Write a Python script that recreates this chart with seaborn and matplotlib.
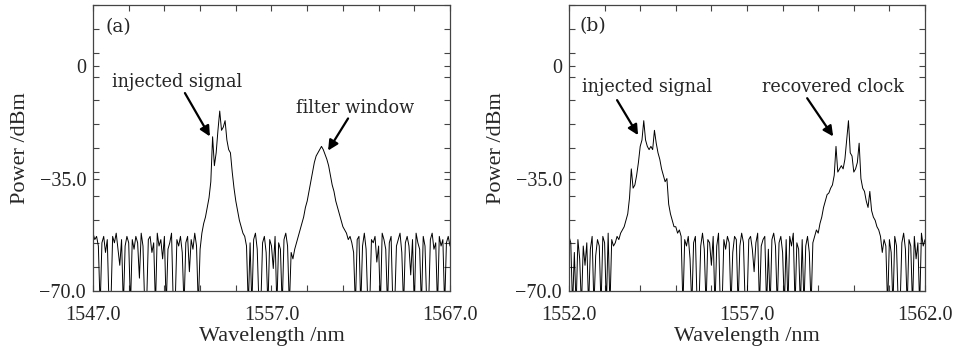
import numpy as np
import pandas as pd
import matplotlib
matplotlib.use("Agg")
import matplotlib.pyplot as plt
import seaborn as sns

# ---------------- data ----------------
# Panel (a): 1547.0 .. 1567.0 nm, 0.1 nm sampling (201 samples)
a_start, a_stop = 1547.0, 1567.0
a_noise_left = [
    -52, -54, -53, -56, -75, -55, -53, -58, -54, -75,
    -75, -53, -55, -52, -57, -62, -54, -75, -56, -53,
    -55, -75, -54, -57, -53, -55, -66, -52, -56, -75,
    -75, -54, -53, -58, -55, -75, -52, -56, -54, -60,
    -53, -75, -57, -55, -52, -75, -75, -54, -56, -53,
    -58, -75, -55, -53, -64, -54, -57, -52, -56, -75]
a_signal = [
    -57, -52, -49, -47, -44, -41, -36, -22, -31, -27,
    -20, -14, -20, -19, -17, -23, -26, -27, -33, -38,
    -42, -45, -48, -50, -52]
a_noise_mid = [
    -53, -56, -75, -55, -75, -54, -52, -57, -75, -75,
    -55, -53, -58, -75, -54, -56, -63, -53, -75, -55,
    -57, -75, -54, -52, -56, -75, -58, -60, -57]
a_filter = [
    -55, -53, -51, -49, -47, -44, -42, -39, -36, -33,
    -30, -28, -27, -26, -25, -26, -27.5, -29, -31, -34,
    -37, -39, -42, -44, -46, -48, -50, -51, -52, -54, -53]
a_noise_right = [
    -55, -58, -75, -54, -53, -75, -56, -52, -57, -75,
    -75, -54, -55, -53, -61, -56, -75, -52, -54, -57,
    -75, -55, -53, -75, -75, -56, -54, -52, -58, -75,
    -55, -53, -56, -65, -54, -75, -52, -55, -57, -75,
    -53, -56, -75, -75, -54, -52, -57, -55, -75, -53,
    -56, -54, -75, -55, -53, -56]
power_a = a_noise_left + a_signal + a_noise_mid + a_filter + a_noise_right

# Panel (b): 1552.0 .. 1562.0 nm, 0.05 nm sampling (201 samples)
b_start, b_stop = 1552.0, 1562.0
b_noise_left = [
    -53, -55, -75, -58, -75, -54, -60, -75, -56, -62,
    -55, -75, -57, -53, -75, -59, -54, -56, -75, -53,
    -55, -75, -52, -75, -54, -56]
b_signal = [
    -55, -53, -54, -52, -51, -50, -48, -46, -41, -32,
    -38, -37, -34, -30, -25, -23, -17, -23, -25, -26,
    -25, -26, -20, -24, -27, -29, -32, -34, -36, -35,
    -43, -46, -48, -50, -50, -52, -51, -53]
b_noise_mid = [
    -75, -54, -56, -53, -60, -75, -55, -53, -75, -75,
    -56, -52, -57, -75, -54, -55, -62, -53, -75, -56,
    -52, -75, -75, -54, -57, -53, -55, -75, -58, -53,
    -54, -75, -56, -52, -55, -75, -75, -54, -53, -57,
    -64, -55, -52, -75, -56, -54, -53, -75, -57, -75,
    -54, -52, -56, -75, -55, -53, -58, -75, -54, -75,
    -53, -56, -52, -75, -55, -57, -75, -54, -75, -56,
    -53, -58, -75, -55]
b_clock = [
    -53, -51, -52, -49, -47, -44, -42, -40, -39.5, -38,
    -37, -34, -25, -33, -32, -31, -32, -29, -23, -17,
    -27, -28, -33, -32, -30, -24, -35, -38, -39, -42,
    -44, -39, -45, -47, -48, -50, -51, -53, -58, -54]
b_noise_right = [
    -56, -75, -54, -58, -75, -53, -56, -75, -75, -55,
    -52, -57, -75, -54, -56, -75, -53, -60, -55, -75,
    -52, -56, -54]
power_b = b_noise_left + b_signal + b_noise_mid + b_clock + b_noise_right

df_a = pd.DataFrame({"wavelength": np.linspace(a_start, a_stop, len(power_a)),
                     "power": power_a})
df_b = pd.DataFrame({"wavelength": np.linspace(b_start, b_stop, len(power_b)),
                     "power": power_b})

x_labels_a = [1547.0, 1557.0, 1567.0]
x_labels_b = [1552.0, 1557.0, 1562.0]
y_labels = [-70.0, -35.0, 0.0]
y_label_text = ["\u221270.0", "\u221235.0", "0"]

# ---------------- style ----------------
sns.set_style("ticks")
plt.rcParams["font.family"] = ["Liberation Serif", "DejaVu Serif"]
plt.rcParams["axes.unicode_minus"] = True

fig = plt.figure(figsize=(9.57, 3.48), dpi=100)
fig.patch.set_facecolor("white")

ann_font = dict(family=["DejaVu Serif"], size=12.7)
tick_fs = 14.5
label_fs = 16
YMIN, YMAX = -70, 19


def style_axes(ax, xmin, xmax, xmajor, minor_step):
    ax.set_xlim(xmin, xmax)
    ax.set_ylim(YMIN, YMAX)
    ax.set_xticks(xmajor)
    ax.set_xticklabels([f"{v:.1f}" for v in xmajor])
    ax.set_xticks(np.arange(xmin, xmax + 1e-9, minor_step), minor=True)
    ax.set_yticks(y_labels)
    ax.set_yticklabels(y_label_text)
    ax.set_yticks(np.linspace(YMIN, YMAX, 13), minor=True)
    ax.tick_params(axis="both", which="both", direction="in", top=True,
                   right=True, color="#444444", width=0.8)
    ax.tick_params(axis="both", which="major", length=4)
    ax.tick_params(axis="both", which="minor", length=4)
    ax.tick_params(axis="x", which="major", pad=11, labelsize=tick_fs)
    ax.tick_params(axis="y", which="major", pad=5, labelsize=tick_fs)
    for s in ax.spines.values():
        s.set_color("#444444")
        s.set_linewidth(0.9)
        s.set_visible(True)
    ax.set_xlabel("Wavelength /nm", fontsize=label_fs, labelpad=1)
    ax.set_ylabel("Power /dBm", fontsize=label_fs, labelpad=7)
    ax.set_facecolor("white")


def arrow(ax, tip, tail):
    ax.annotate("", xy=tip, xytext=tail,
                arrowprops=dict(arrowstyle="-|>", color="black", lw=1.6,
                                mutation_scale=15, shrinkA=0, shrinkB=0))


# Panel (a)
ax_a = fig.add_axes([93 / 957, 57 / 348, 357 / 957, 286 / 348])
sns.lineplot(data=df_a, x="wavelength", y="power", ax=ax_a, color="black",
             lw=0.7, sort=False)
style_axes(ax_a, a_start, a_stop, x_labels_a, 2.0)
ax_a.text(1547.7, 12.0, "(a)", ha="left", va="center",
          family=["DejaVu Serif"], size=13.5)
ax_a.text(1551.7, -5.0, "injected signal", ha="center", va="center", **ann_font)
arrow(ax_a, (1553.55, -21.9), (1552.15, -8.4))
ax_a.text(1561.7, -13.0, "filter window", ha="center", va="center", **ann_font)
arrow(ax_a, (1560.17, -26.3), (1561.29, -16.3))

# Panel (b)
ax_b = fig.add_axes([569 / 957, 57 / 348, 356 / 957, 286 / 348])
sns.lineplot(data=df_b, x="wavelength", y="power", ax=ax_b, color="black",
             lw=0.7, sort=False)
style_axes(ax_b, b_start, b_stop, x_labels_b, 1.0)
ax_b.text(1552.3, 12.5, "(b)", ha="left", va="center",
          family=["DejaVu Serif"], size=13.5)
ax_b.text(1554.19, -6.4, "injected signal", ha="center", va="center", **ann_font)
arrow(ax_b, (1553.94, -21.5), (1553.35, -10.6))
ax_b.text(1559.42, -6.6, "recovered clock", ha="center", va="center", **ann_font)
arrow(ax_b, (1559.42, -21.9), (1558.69, -10.0))

fig.savefig("out.png", dpi=100, facecolor="white")
